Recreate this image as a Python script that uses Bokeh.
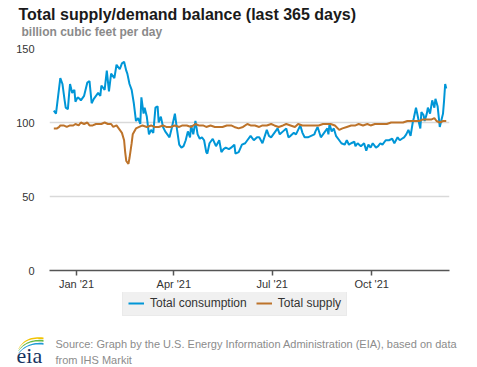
import datetime as dt
from bokeh.plotting import figure
from bokeh.layouts import column
from bokeh.models import (Range1d, FixedTicker, DatetimeTickFormatter, Label,
                          Legend, LegendItem, PolyAnnotation)
from bokeh.embed import file_html
from bokeh.resources import INLINE

# ---------------- data ----------------
series_start = dt.datetime(2020, 12, 11)

cons_day = [0, 2, 4, 6, 7, 8, 10, 11, 13, 14, 15, 17, 19, 20, 22, 24, 25, 28, 31, 33,
            35, 37, 38, 41, 43, 44, 47, 49, 51, 53, 56, 58, 61, 63, 65, 67, 68, 70, 72, 74,
            76, 78, 80, 81, 83, 84, 86, 88, 90, 92, 94, 96, 97, 99, 101, 103, 105, 107, 109, 112,
            114, 116, 118, 120, 122, 124, 126, 127, 129, 131, 133, 135, 137, 139, 141, 142, 144, 147, 150, 153,
            155, 157, 159, 162, 164, 167, 168, 171, 174, 177, 179, 182, 185, 188, 190, 193, 197, 199, 201, 204,
            207, 209, 212, 215, 217, 219, 222, 224, 226, 228, 230, 232, 235, 238, 241, 242, 244, 247, 250, 253,
            254, 255, 257, 259, 261, 264, 266, 269, 271, 273, 275, 278, 279, 281, 284, 287, 289, 291, 293, 295,
            298, 300, 302, 304, 307, 310, 313, 315, 318, 320, 322, 324, 326, 328, 330, 332, 333, 335, 337, 338,
            339, 340, 342, 343, 345, 346, 348, 350, 352, 353, 355, 357, 359, 360, 361, 362, 363]
cons_val = [108, 106, 118, 130, 128, 126, 115, 110, 109, 118, 126, 120, 122, 114, 117, 116, 115, 118, 127, 128,
            113, 116, 117, 120, 118, 125, 122, 135, 121, 133, 130, 139, 136, 140, 141, 135, 133, 126, 122, 113,
            101, 103, 99, 117, 106, 110, 104, 92, 95, 93, 110, 111, 100, 104, 97, 94, 92, 90, 96, 106,
            95, 85, 83, 84, 88, 94, 90, 98, 92, 101, 92, 89, 90, 88, 80, 79, 86, 89, 84, 88,
            80, 82, 83, 82, 83, 85, 79, 80, 85, 86, 88, 91, 88, 90, 90, 86, 95, 91, 90, 93,
            96, 92, 94, 96, 90, 91, 93, 92, 95, 98, 93, 90, 90, 91, 92, 94, 97, 90, 93, 96,
            92, 99, 94, 96, 91, 88, 86, 85, 88, 85, 86, 87, 84, 86, 84, 86, 81, 85, 83, 86,
            83, 84, 86, 85, 88, 88, 89, 86, 90, 88, 89, 90, 92, 95, 91, 100, 103, 110, 103, 99,
            96, 107, 105, 101, 106, 110, 106, 115, 110, 116, 111, 97, 103, 106, 115, 126, 123]

sup_day = [0, 3, 5, 6, 9, 12, 15, 18, 20, 23, 25, 28, 31, 33, 36, 39, 42, 44, 47, 50,
           53, 55, 58, 60, 63, 65, 66, 67, 69, 70, 72, 73, 76, 79, 82, 86, 90, 93, 97, 101,
           104, 108, 112, 116, 119, 123, 127, 131, 134, 138, 141, 145, 149, 152, 156, 160, 164, 167, 171, 175,
           179, 182, 186, 190, 193, 197, 201, 204, 208, 212, 215, 219, 223, 226, 230, 234, 238, 241, 245, 249,
           252, 256, 260, 264, 267, 271, 275, 279, 282, 286, 290, 293, 297, 301, 304, 308, 312, 315, 319, 323,
           327, 330, 334, 338, 341, 345, 349, 352, 354, 357, 360, 363]
sup_val = [96, 96, 97, 98, 98, 97, 98, 98, 99, 98, 100, 99, 100, 98, 98, 99, 99, 99, 100, 99,
           99, 97, 98, 96, 93, 88, 80, 74, 72, 76, 86, 92, 96, 97, 98, 97, 98, 97, 97, 98,
           97, 97, 98, 97, 98, 98, 97, 99, 98, 98, 97, 98, 97, 97, 97, 98, 98, 97, 96, 97,
           99, 98, 98, 97, 98, 98, 99, 98, 97, 98, 99, 98, 97, 99, 98, 98, 98, 98, 98, 99,
           99, 99, 98, 95, 96, 97, 98, 98, 99, 98, 99, 98, 99, 99, 99, 99, 100, 100, 100, 100,
           101, 101, 101, 101, 102, 102, 102, 103, 101, 100, 101, 101]

y_ticks = [0, 50, 100, 150]
x_tick_dates = [dt.datetime(2021, 1, 1), dt.datetime(2021, 4, 1),
                dt.datetime(2021, 7, 1), dt.datetime(2021, 10, 1)]
series_names = ["Total consumption", "Total supply"]
series_colors = ["#0096d7", "#bd732a"]

title_text = "Total supply/demand balance (last 365 days)"
subtitle_text = "billion cubic feet per day"
source_lines = ["Source: Graph by the U.S. Energy Information Administration (EIA), based on data",
                "from IHS Markit"]

FONT = "Liberation Sans"
W = 477
NAN = float("nan")


def blank(h):
    f = figure(width=W, height=h, output_backend="svg", toolbar_location=None,
               x_range=Range1d(0, W), y_range=Range1d(h, 0), title=None,
               x_axis_location=None, y_axis_location=None, min_border=0,
               frame_align=False)
    f.outline_line_color = None
    f.grid.visible = False
    return f


# ---------------- header ----------------
HEAD_H = 40
head = blank(HEAD_H)
head.add_layout(Label(x=18, y=14, text=title_text, text_font=FONT, text_font_size="16px",
                      text_font_style="bold", text_color="#1a1a1a",
                      text_baseline="middle"))
head.add_layout(Label(x=21, y=31, text=subtitle_text, text_font=FONT, text_font_size="12px",
                      text_font_style="bold", text_color="#8a8a8a",
                      text_baseline="middle"))

# ---------------- main chart ----------------
cons_x = [series_start + dt.timedelta(days=d) for d in cons_day]
sup_x = [series_start + dt.timedelta(days=d) for d in sup_day]

p = figure(width=W, height=252, x_axis_type="datetime", title=None,
           output_backend="svg", toolbar_location=None,
           x_range=Range1d(dt.datetime(2020, 12, 7), dt.datetime(2021, 12, 12)),
           y_range=Range1d(0, 150), frame_align=False,
           min_border_left=49, min_border_right=28, min_border_top=8, min_border_bottom=22)
p.outline_line_color = None

p.yaxis.ticker = FixedTicker(ticks=y_ticks)
p.yaxis.axis_line_color = None
p.yaxis.major_tick_line_color = None
p.yaxis.minor_tick_line_color = None
p.yaxis.major_label_standoff = 9
p.yaxis.major_label_text_font = FONT
p.yaxis.major_label_text_font_size = "11px"
p.yaxis.major_label_text_color = "#333333"

tick_ms = [(d - dt.datetime(1970, 1, 1)).total_seconds() * 1000 for d in x_tick_dates]
p.xaxis.ticker = FixedTicker(ticks=tick_ms)
fmt = "%b '%y"
p.xaxis.formatter = DatetimeTickFormatter(days=fmt, months=fmt, years=fmt, hours=fmt,
                                          minutes=fmt, seconds=fmt, milliseconds=fmt,
                                          microseconds=fmt, minsec=fmt, hourmin=fmt)
p.xaxis.axis_line_color = "#555555"
p.xaxis.axis_line_width = 1.5
p.xaxis.major_tick_line_color = "#555555"
p.xaxis.major_tick_line_width = 1.5
p.xaxis.major_tick_out = 5
p.xaxis.major_tick_in = 0
p.xaxis.minor_tick_line_color = None
p.xaxis.major_label_standoff = 2
p.xaxis.major_label_text_font = FONT
p.xaxis.major_label_text_font_size = "11px"
p.xaxis.major_label_text_color = "#333333"

p.xgrid.visible = False
p.ygrid.ticker = FixedTicker(ticks=y_ticks)
p.ygrid.grid_line_color = "#d9d9d9"
p.ygrid.grid_line_width = 1.5

p.line(cons_x, cons_val, color=series_colors[0], line_width=2)
p.line(sup_x, sup_val, color=series_colors[1], line_width=2)

# ---------------- footer: legend, source, logo ----------------
FOOT_H = 75
foot = blank(FOOT_H)
lr1 = foot.line([NAN], [NAN], color=series_colors[0], line_width=2)
lr2 = foot.line([NAN], [NAN], color=series_colors[1], line_width=2)
legend = Legend(items=[LegendItem(label=series_names[0], renderers=[lr1]),
                       LegendItem(label=series_names[1], renderers=[lr2])],
                orientation="horizontal", location=(122, 51),
                padding=5, spacing=9, glyph_width=16, glyph_height=12,
                label_height=12, label_standoff=6, margin=0,
                label_text_font=FONT, label_text_font_size="12px",
                label_text_color="#333333",
                background_fill_color="#f0f0f0", background_fill_alpha=1,
                border_line_color="#e4e4e4")
foot.add_layout(legend, "center")

FOOT_Y0 = 292  # page y of the footer's top edge
for i, line in enumerate(source_lines):
    foot.add_layout(Label(x=55, y=343 - FOOT_Y0 + 16 * i, text=line, text_font=FONT,
                          text_font_size="11px", text_color="#8c8c8c",
                          text_baseline="middle"))

foot.add_layout(Label(x=16, y=355 - FOOT_Y0, text="eia", text_font="Liberation Serif",
                      text_font_size="22px", text_color="#16335f",
                      text_baseline="middle"))


def band(p0, c, p2, th, color):
    n = 16
    up_x, up_y, lo_x, lo_y = [], [], [], []
    for k in range(n + 1):
        t = k / n
        bx = (1 - t) ** 2 * p0[0] + 2 * (1 - t) * t * c[0] + t ** 2 * p2[0]
        by = (1 - t) ** 2 * p0[1] + 2 * (1 - t) * t * c[1] + t ** 2 * p2[1]
        up_x.append(bx)
        up_y.append(by - FOOT_Y0)
        lo_x.append(bx)
        lo_y.append(by - FOOT_Y0 + th * (0.4 + 0.6 * t))
    foot.add_layout(PolyAnnotation(xs=up_x + lo_x[::-1], ys=up_y + lo_y[::-1],
                                   fill_color=color, fill_alpha=1, line_color=None))


band((18, 348), (25, 335), (43, 337), 1.8, "#f2c300")
band((18, 350), (26, 338), (43, 339.5), 1.8, "#62b946")
band((18, 352.5), (27, 341), (43, 342.5), 1.8, "#1f9ad6")

layout = column(head, p, foot, spacing=0)
open("out.html", "w").write(file_html(layout, INLINE))
